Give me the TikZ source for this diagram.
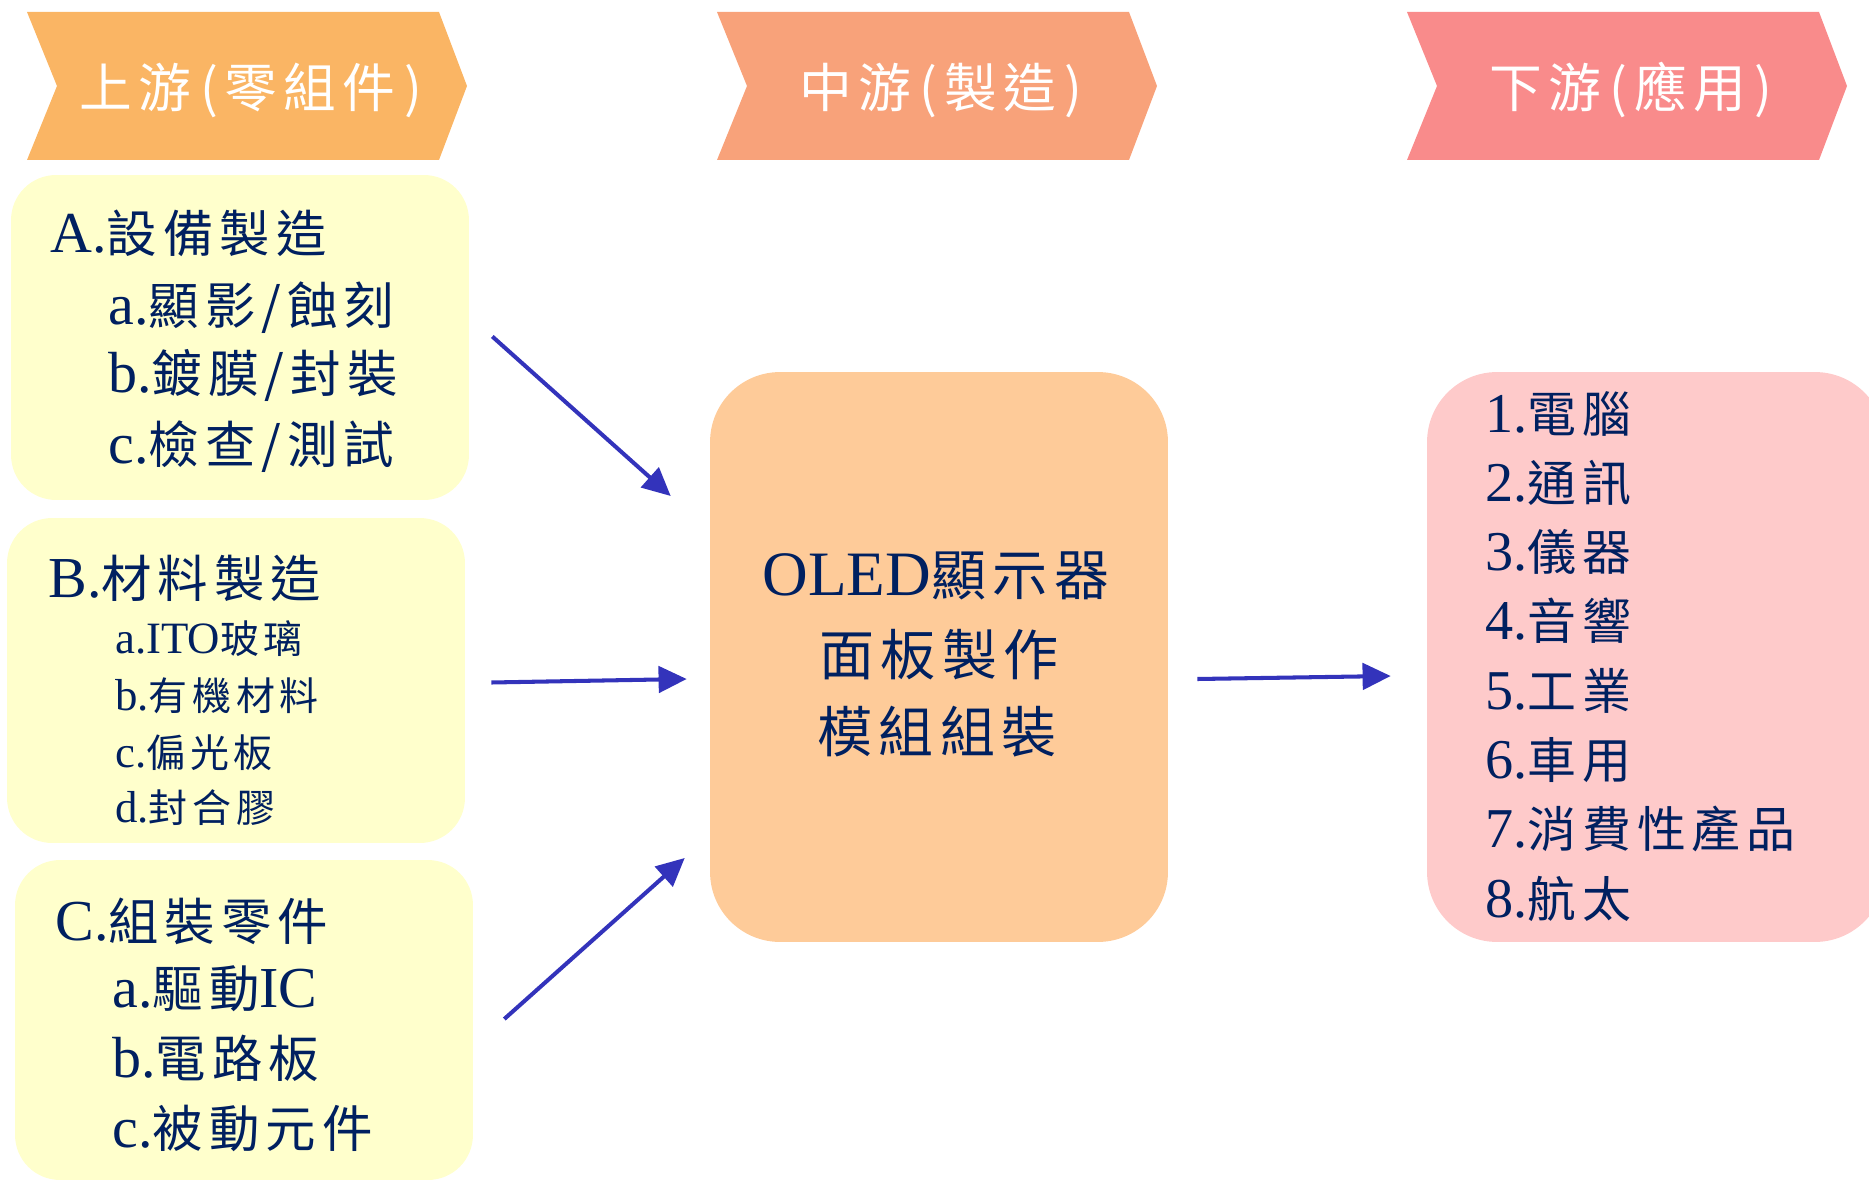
\documentclass[tikz,border=0pt]{standalone}
\usepackage{fontspec}
\setmainfont{Liberation Serif}
\newfontfamily\cjk[Scale=0.87, LetterSpace=12]{Noto Sans CJK TC}
\usepackage{tikz}
\usetikzlibrary{arrows.meta, calc}

\definecolor{upcol}{RGB}{250,181,100}
\definecolor{midcol}{RGB}{248,162,122}
\definecolor{downcol}{RGB}{249,139,139}
\definecolor{boxyellow}{RGB}{255,255,204}
\definecolor{boxorange}{RGB}{254,203,153}
\definecolor{boxpink}{RGB}{254,202,202}
\definecolor{navy}{RGB}{0,32,96}
\definecolor{arrowblue}{RGB}{51,51,187}

\begin{document}
\begin{tikzpicture}[x=0.02cm, y=-0.02cm,
    box/.style={rounded corners=0.9cm, inner sep=0pt},
    item/.style={anchor=base west, inner sep=0pt, text=navy},
    ttl/.style={font=\fontsize{33}{38}\selectfont},
    sub/.style={font=\fontsize{25.5}{30}\selectfont},
    flow/.style={draw=arrowblue, line width=2.3pt, -{Triangle[length=16pt,width=15pt]}}]
	\clip (0,0) rectangle (1869,1182);

	% header chevrons
	\foreach \x/\c/\t [count=\i] in {27/upcol/上游\,(零組件\,), 717/midcol/中游\,(製造\,), 1407/downcol/下游\,(應用\,)} {
		\fill[\c] (\x,12) -- ++(412,0) -- ++(28,74) -- ++(-28,74) -- ++(-412,0) -- ++(30,-74) -- cycle;
		\node[text=white, font=\cjk\fontsize{34.5}{40}\selectfont] (head\i) at (\x+224,90) {\t};
	}

	% upstream boxes
	\node[box, fill=boxyellow, minimum width=9.16cm, minimum height=6.5cm] (boxA) at (240,337.5) {};
	\node[box, fill=boxyellow, minimum width=9.16cm, minimum height=6.5cm] (boxB) at (236,680.5) {};
	\node[box, fill=boxyellow, minimum width=9.16cm, minimum height=6.4cm] (boxC) at (244,1020) {};

	\node[item, ttl] (A0) at (50,253) {A.{\cjk 設備製造}};
	\node[item, ttl] (A1) at (108,325) {a.{\cjk 顯影/蝕刻}};
	\node[item, ttl] (A2) at (108,393) {b.{\cjk 鍍膜/封裝}};
	\node[item, ttl] (A3) at (108,463) {c.{\cjk 檢查/測試}};

	\node[item, ttl] (B0) at (48,597) {B.{\cjk 材料製造}};
	\node[item, sub] (B1) at (115,653) {a.ITO{\cjk 玻璃}};
	\node[item, sub] (B2) at (115,710) {b.{\cjk 有機材料}};
	\node[item, sub] (B3) at (115,767) {c.{\cjk 偏光板}};
	\node[item, sub] (B4) at (115,822) {d.{\cjk 封合膠}};

	\node[item, ttl] (C0) at (55,940) {C.{\cjk 組裝零件}};
	\node[item, ttl] (C1) at (112,1007) {a.{\cjk 驅動}IC};
	\node[item, ttl] (C2) at (112,1077) {b.{\cjk 電路板}};
	\node[item, ttl] (C3) at (112,1147) {c.{\cjk 被動元件}};

	% midstream
	\node[box, fill=boxorange, rounded corners=1.4cm, minimum width=9.16cm, minimum height=11.4cm] (panel) at (939,657) {};
	\node[item, anchor=base, font=\fontsize{36}{42}\selectfont] (M1) at (936,595) {OLED{\cjk 顯示器}};
	\node[item, anchor=base, font=\cjk\fontsize{36}{42}\selectfont] (M2) at (939,675) {面板製作};
	\node[item, anchor=base, font=\cjk\fontsize{36}{42}\selectfont] (M3) at (937,752) {模組組裝};

	% downstream
	\node[box, fill=boxpink, rounded corners=1.4cm, minimum width=9.16cm, minimum height=11.4cm] (apps) at (1656,657) {};
	\foreach \t [count=\i] in {1.{\cjk 電腦}, 2.{\cjk 通訊}, 3.{\cjk 儀器}, 4.{\cjk 音響}, 5.{\cjk 工業}, 6.{\cjk 車用}, 7.{\cjk 消費性產品}, 8.{\cjk 航太}}
		\node[item, font=\fontsize{32}{38}\selectfont] (app\i) at (1485,{432+69.3*(\i-1)}) {\t};

	% flows
	\draw[flow] ($(boxA.east)+(23,-1)$) -- ($(panel.west)+(-39,-161)$);
	\draw[flow] ($(boxB.east)+(26,2)$) -- ($(panel.west)+(-23,22)$);
	\draw[flow] ($(boxC.east)+(31,-1)$) -- ($(panel.west)+(-25,201)$);
	\draw[flow] ($(panel.east)+(29,22)$) -- ($(apps.west)+(-36,19)$);
\end{tikzpicture}
\end{document}
